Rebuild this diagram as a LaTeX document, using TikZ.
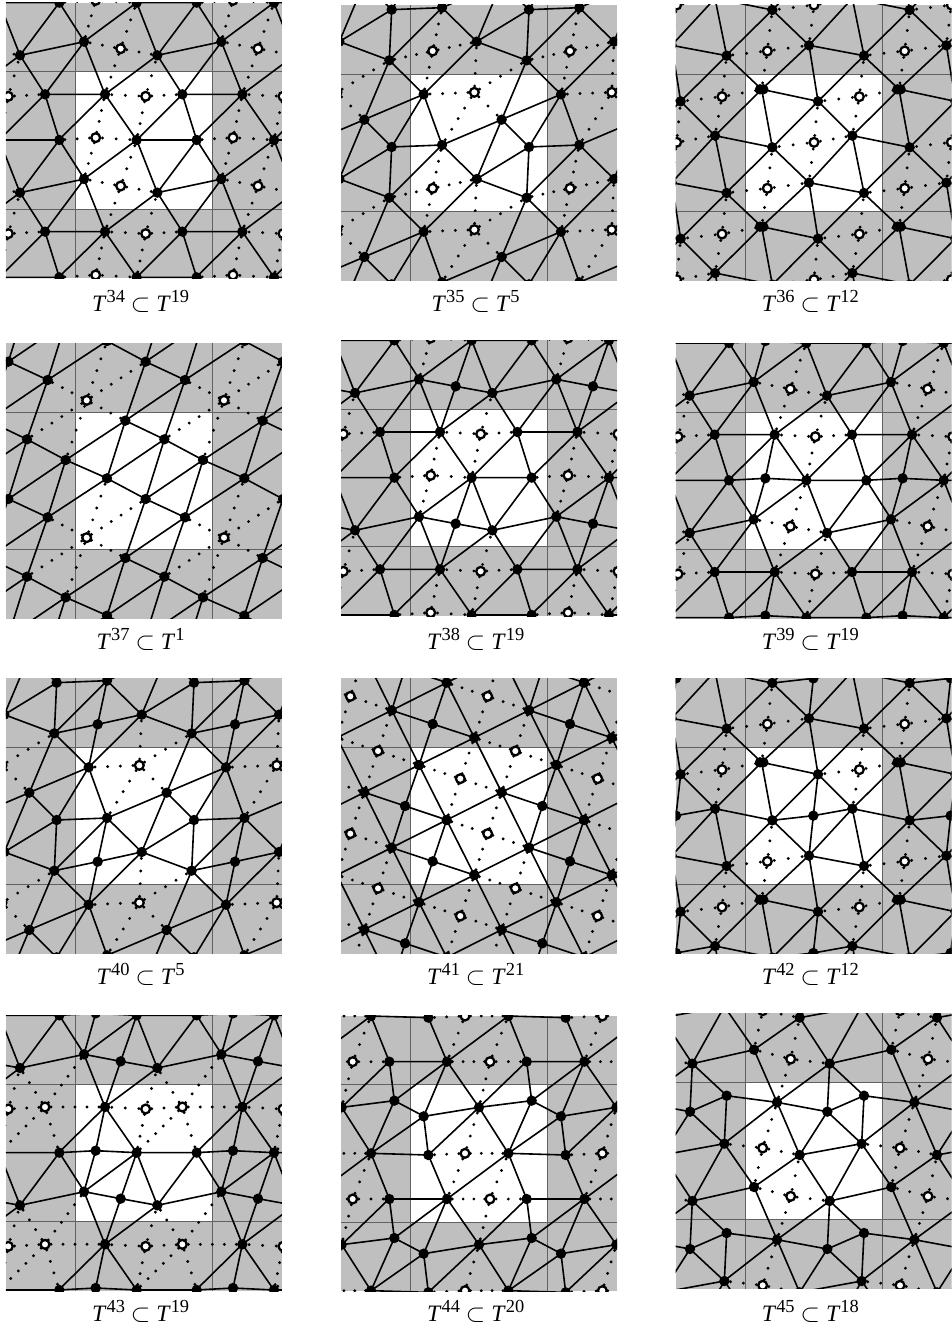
\documentclass[tikz,border=0pt]{standalone}
\usepackage{fontspec}
\setmainfont{Liberation Serif}
\definecolor{tilegray}{HTML}{BFBFBF}
\tikzset{
  ed/.style={line width=1.6pt,line cap=round,black},
  gridl/.style={line width=0.75pt,black!62},
  dl/.style={line width=3.2pt,line cap=round,black},
  ring/.style={line width=2.3pt,black,fill=white},
  capt/.style={anchor=base,inner sep=0pt,font=\fontsize{23.5}{24}\selectfont}
}
\newcommand\tilebody{}
\newcommand\supn[1]{\raisebox{9pt}{\fontsize{18.4}{18}\selectfont #1}}
% vertices
\newcommand\vv[1]{\foreach \x/\y in {#1}{\fill[black] (\x,\y) circle (5.2pt);}}
% hollow vertex with dotted spokes
\newcommand\hh[3]{%
  \foreach \x/\y in {#3}{%
    \pgfmathsetmacro\dlL{veclen(\x-#1,\y-#2)}%
    \pgfmathsetmacro\dlN{max(1,floor(\dlL/32))}%
    \pgfmathsetmacro\dlS{\dlL/\dlN/3}%
    \pgfmathsetmacro\dlP{\dlS/2}%
    \draw[dl,dash pattern=on 0pt off \dlS pt,dash phase=\dlP pt] (#1,#2)--(\x,\y);}%
  \draw[ring] (#1,#2) circle (4.4pt);}
% one panel: crop x, crop y, square x, square y, caption baseline, caption numbers
\newcommand\tile[7]{%
\begin{scope}[x=.33333pt,y=-.33333pt,xshift=#1pt,yshift=-#2pt]
  \begin{scope}
    \clip (#3-208,#4-207) rectangle (#3+620,#4+620);
    \fill[tilegray] (#3-208,#4-207) rectangle (#3+620,#4+620);
    \fill[white] (#3,#4) rectangle (#3+412,#4+412);
    \draw[gridl] (#3,#4-207)--(#3,#4+620) (#3+412,#4-207)--(#3+412,#4+620)
                 (#3-208,#4)--(#3+620,#4) (#3-208,#4+412)--(#3+620,#4+412);
    \foreach \i in {-2,...,2}{\foreach \j in {-2,...,2}{%
      \begin{scope}[shift={(\i*412,\j*412)}]\tilebody\end{scope}}}
  \end{scope}
  \node[capt] (cap#6#7) at (#3+196,#5) {\textit{T}\supn{#6}\kern6pt$\subset$\kern6pt\textit{T}\supn{#7}};
\end{scope}}
% T19 family (without the fourth corner vertex)
\newcommand\skelS{\draw[ed]
 (315,283)--(410,420) (315,283)--(252,125) (315,283)--(472,166) (315,283)--(176,420)
 (410,420)--(590,420) (410,420)--(252,537) (410,420)--(472,578) (590,420)--(472,578)
 (590,420)--(665,537) (472,578)--(665,537);
 \vv{315/283,410/420,590/420,252/537,472/578}}
\newcommand\skelB{\draw[ed]
 (315,283)--(135,283) (547,283)--(410,420) (547,283)--(590,420) (547,283)--(472,166) (547,283)--(665,125);
 \vv{547/283}}
\newcommand\hA{\hh{437}{289}{315/283,547/283,410/420,472/166}}
\newcommand\hB{\hh{287}{413}{315/283,410/420,252/537,176/420}}
\newcommand\hC{\hh{362}{558}{252/537,472/578,410/420,315/695}}
\newcommand\vG{\draw[ed] (287,414)--(315,283) (287,414)--(252,537) (287,414)--(410,420) (287,414)--(176,420); \vv{287/414}}
\newcommand\vI{\draw[ed] (362,558)--(252,537) (362,558)--(472,578) (362,558)--(410,420) (362,558)--(315,695); \vv{362/558}}
% T5 family
\newcommand\skelF{\draw[ed]
 (266,283)--(321,435) (266,283)--(163,181) (266,283)--(87,359) (266,283)--(170,441) (266,283)--(425,125)
 (500,359)--(321,435) (500,359)--(582,441) (500,359)--(425,537) (500,359)--(575,181)
 (321,435)--(170,441) (321,435)--(425,537) (321,435)--(163,593)
 (582,441)--(425,537) (582,441)--(575,593) (425,537)--(575,593);
 \vv{266/283,500/359,321/435,582/441,425/537,575/593}
 \hh{418}{277}{266/283,425/125,575/181,500/359,321/435}}
% T12 family
\newcommand\skelT{\draw[ed]
 (290,268)--(459,304) (290,268)--(322,442) (290,268)--(183,167) (290,268)--(432,135) (290,268)--(150,407)
 (459,304)--(322,442) (459,304)--(562,407) (459,304)--(432,135) (459,304)--(597,167)
 (322,442)--(150,407) (322,442)--(432,548) (322,442)--(183,579)
 (562,407)--(432,548) (562,407)--(597,579) (432,548)--(597,579);
 \vv{285/268,295/268,459/304,322/442,562/407,432/548,597/579}
 \hh{307}{565}{322/442,183/579,290/680,432/548}
 \hh{583}{290}{459/304,597/167,704/268,562/407}}
\begin{document}
\begin{tikzpicture}
\useasboundingbox (0,0) rectangle (951pt,-1330pt);
% T34
\renewcommand\tilebody{\skelS\skelB\hA\hB\hC}
\tile{0}{0}{226}{215}{936}{34}{19}
% T35
\renewcommand\tilebody{\skelF\hh{293}{565}{321/435,163/593,425/537,266/695}}
\tile{335}{0}{226}{222}{936}{35}{5}
% T36
\renewcommand\tilebody{\skelT\hh{447}{427}{322/442,562/407,459/304,432/548}}
\tile{665}{0}{240}{222}{936}{36}{12}
% T37
\renewcommand\tilebody{\draw[ed]
 (376,257)--(493,313) (376,257)--(321,430) (376,257)--(437,80) (376,257)--(197,375) (376,257)--(555,135)
 (493,313)--(609,375) (493,313)--(321,430) (493,313)--(437,492) (493,313)--(555,135)
 (609,375)--(437,492) (609,375)--(555,547) (609,375)--(734,430)
 (321,430)--(437,492) (321,430)--(143,547) (437,492)--(555,547);
 \vv{376/257,493/313,609/375,321/430,437/492,555/547}
 \hh{260}{608}{143/547,321/430,437/492,376/669,197/787,81/725}}
\tile{0}{335}{226}{231}{943}{37}{1}
% T38
\renewcommand\tilebody{\begin{scope}[shift={(0,8)}]\skelS\skelB\vI\hA\hB\end{scope}}
\tile{335}{335}{226}{223}{943}{38}{19}
% T39
\renewcommand\tilebody{\begin{scope}[shift={(14,16)}]\skelS\skelB\vG\hA\hC\end{scope}}
\tile{665}{335}{240}{231}{943}{39}{19}
% T40
\renewcommand\tilebody{\begin{scope}[shift={(0,9)}]\skelF
 \draw[ed] (293,566)--(321,435) (293,566)--(163,593) (293,566)--(425,537) (293,566)--(266,695); \vv{293/566}\end{scope}}
\tile{0}{670}{226}{231}{943}{40}{5}
% T41
\renewcommand\tilebody{\draw[ed]
 (252,285)--(335,450) (335,450)--(418,615) (418,203)--(500,367) (500,367)--(582,533) (170,120)--(252,285)
 (252,285)--(418,203) (252,285)--(87,367) (335,450)--(500,367) (335,450)--(170,533) (418,615)--(582,533)
 (622,408)--(500,367) (622,408)--(748,450) (622,408)--(582,533) (622,408)--(665,285)
 (293,574)--(335,450) (293,574)--(418,615) (293,574)--(170,533) (293,574)--(252,698);
 \vv{252/285,500/367,335/450,582/533,418/615,622/408,293/574}
 \hh{376}{326}{252/285,500/367,335/450,418/203}
 \hh{458}{491}{335/450,418/615,582/533,500/367}
 \hh{541}{243}{418/203,665/285,500/367,582/120}}
\tile{335}{670}{226}{231}{943}{41}{21}
% T42
\renewcommand\tilebody{\begin{scope}[shift={(0,9)}]\skelT
 \draw[ed] (445,428)--(459,304) (445,428)--(322,442) (445,428)--(562,407) (445,428)--(432,548); \vv{445/428}\end{scope}}
\tile{665}{670}{240}{231}{943}{42}{12}
% T43
\renewcommand\tilebody{\begin{scope}[shift={(0,14)}]\skelS\vG\vI
 \hh{437}{289}{315/283,547/283,410/420,472/166}
 \hh{547}{283}{727/283,472/166,665/125,410/420,590/420}\end{scope}}
\tile{0}{1008}{226}{229}{941}{43}{19}
% T44
\renewcommand\tilebody{\draw[ed]
 (432,298)--(590,278) (432,298)--(266,325) (432,298)--(520,436) (432,298)--(280,441) (432,298)--(336,160) (432,298)--(575,160)
 (590,278)--(575,160) (590,278)--(520,436) (590,278)--(679,325) (590,278)--(748,160)
 (266,325)--(280,441) (266,325)--(336,160) (266,325)--(108,436)
 (280,441)--(108,436) (280,441)--(336,573) (520,436)--(575,573) (520,436)--(336,573) (336,573)--(163,573);
 \vv{432/298,590/278,266/325,280/441,520/436,336/573,575/573}
 \hh{390}{436}{280/441,520/436,432/298,336/573}
 \hh{465}{573}{336/573,575/573,520/436,432/710}}
\tile{335}{1008}{226}{230}{941}{44}{20}
% T45
\renewcommand\tilebody{\draw[ed]
 (336,283)--(487,311) (336,283)--(183,263) (336,283)--(404,441) (336,283)--(267,125) (336,283)--(494,167) (336,283)--(177,407)
 (487,311)--(597,263) (487,311)--(590,407) (487,311)--(404,441) (487,311)--(494,167)
 (597,263)--(590,407) (597,263)--(494,167)
 (590,407)--(404,441) (590,407)--(494,579) (590,407)--(680,537)
 (404,441)--(267,537) (404,441)--(494,579) (494,579)--(680,537);
 \vv{336/283,487/311,597/263,590/407,404/441,267/537,494/579}
 \hh{293}{420}{336/283,404/441,267/537,177/407}
 \hh{377}{565}{267/537,494/579,404/441,336/695}}
\tile{665}{1008}{240}{222}{941}{45}{18}
\end{tikzpicture}
\end{document}
